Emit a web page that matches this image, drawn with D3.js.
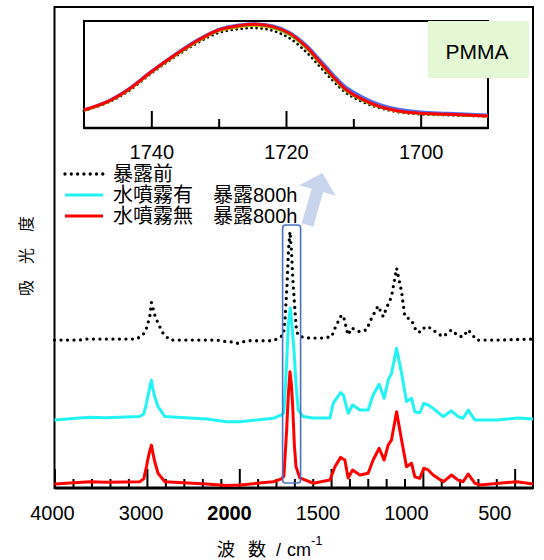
<!DOCTYPE html>
<html>
<head>
<meta charset="utf-8">
<style>
  body { margin: 0; background: #fff; }
  text { font-family: "Liberation Sans", Arial, "Noto Sans CJK JP", sans-serif; fill: #000; }
</style>
</head>
<body>
<script src="https://cdn.jsdelivr.net/npm/d3@7/dist/d3.min.js"></script>
<script>

  // spectra: [wavenumber cm-1, absorbance incl. stacking offset]
  var beforeExposure = [
    [4000,0.621],[3729,0.621],[3656,0.625],[3403,0.625],[3113,0.625],[3042,0.642],
    [3005,0.670],[2969,0.718],[2951,0.776],[2915,0.725],[2879,0.690],[2825,0.649],
    [2752,0.621],[2245,0.621],[2137,0.614],[2068,0.613],[2014,0.607],[1960,0.618],
    [1815,0.618],[1788,0.628],[1760,0.642],[1751,0.704],[1740,0.849],[1732,0.994],
    [1724,1.070],[1716,0.994],[1708,0.870],[1697,0.745],[1688,0.655],[1670,0.635],
    [1615,0.629],[1544,0.629],[1497,0.635],[1474,0.679],[1443,0.725],[1430,0.712],
    [1408,0.642],[1388,0.671],[1343,0.655],[1307,0.663],[1279,0.712],[1244,0.762],
    [1216,0.718],[1198,0.754],[1171,0.800],[1143,0.918],[1116,0.821],[1098,0.718],
    [1062,0.704],[1034,0.655],[1007,0.655],[989,0.676],[952,0.670],[925,0.650],
    [889,0.635],[844,0.663],[808,0.638],[781,0.634],[753,0.663],[707,0.621],
    [580,0.621],[400,0.625]
  ];

  var sprayExposed = [
    [4000,0.290],[3620,0.301],[3439,0.299],[3078,0.304],[3034,0.315],[3005,0.359],
    [2980,0.406],[2951,0.455],[2937,0.422],[2915,0.386],[2879,0.345],[2806,0.304],
    [2354,0.294],[2137,0.283],[1996,0.283],[1815,0.297],[1770,0.311],[1757,0.319],
    [1743,0.511],[1733,0.683],[1722,0.754],[1713,0.683],[1702,0.580],[1691,0.435],
    [1679,0.331],[1652,0.304],[1599,0.298],[1506,0.298],[1488,0.360],[1448,0.403],
    [1433,0.393],[1407,0.318],[1383,0.352],[1343,0.331],[1298,0.331],[1271,0.393],
    [1238,0.438],[1211,0.380],[1189,0.455],[1171,0.483],[1143,0.587],[1116,0.483],
    [1089,0.366],[1062,0.380],[1044,0.324],[1017,0.320],[995,0.359],[971,0.352],
    [944,0.338],[889,0.304],[844,0.328],[808,0.304],[781,0.297],[753,0.331],
    [717,0.290],[597,0.290],[483,0.298],[400,0.294]
  ];

  var noSprayExposed = [
    [4000,0.025],[3620,0.034],[3439,0.032],[3078,0.034],[3034,0.046],[3005,0.096],
    [2980,0.145],[2951,0.186],[2937,0.157],[2915,0.117],[2879,0.069],[2806,0.034],
    [2354,0.025],[2137,0.019],[1996,0.021],[1815,0.034],[1770,0.046],[1757,0.058],
    [1743,0.235],[1733,0.393],[1724,0.490],[1716,0.435],[1709,0.345],[1700,0.186],
    [1691,0.096],[1670,0.050],[1597,0.028],[1506,0.041],[1479,0.096],[1448,0.135],
    [1425,0.124],[1407,0.050],[1383,0.083],[1343,0.062],[1298,0.069],[1271,0.124],
    [1238,0.173],[1211,0.124],[1189,0.186],[1171,0.207],[1143,0.324],[1116,0.207],
    [1089,0.096],[1062,0.111],[1044,0.055],[1017,0.048],[995,0.090],[971,0.083],
    [944,0.062],[889,0.034],[844,0.062],[808,0.041],[781,0.034],[753,0.066],
    [717,0.028],[690,0.021],[490,0.034],[400,0.025]
  ];

  // inset: C=O band, normalised
  var insetWave   = [1750,1746.5,1743.5,1740,1736.5,1733,1730,1727,1724.5,1722,1719.5,1717,1715,1713,1711,1708.5,1706,1703.5,1700,1696,1690];
  var insetBlack  = [0.160,0.236,0.340,0.510,0.665,0.800,0.890,0.925,0.935,0.910,0.840,0.710,0.575,0.440,0.325,0.240,0.185,0.150,0.128,0.120,0.108];
  var insetOrange = [0.163,0.240,0.348,0.518,0.674,0.812,0.905,0.944,0.955,0.935,0.872,0.745,0.605,0.465,0.343,0.254,0.193,0.157,0.133,0.125,0.110];
  var insetGreen  = [0.165,0.243,0.351,0.522,0.678,0.817,0.910,0.950,0.962,0.940,0.875,0.748,0.608,0.468,0.346,0.256,0.195,0.159,0.135,0.126,0.111];
  var insetBlue   = [0.170,0.250,0.360,0.530,0.688,0.828,0.922,0.962,0.975,0.955,0.895,0.775,0.640,0.500,0.378,0.285,0.218,0.178,0.150,0.138,0.122];
  var insetRed    = [0.168,0.246,0.355,0.526,0.682,0.822,0.916,0.956,0.969,0.947,0.885,0.760,0.620,0.479,0.355,0.262,0.199,0.162,0.137,0.128,0.112];

  var majorTicks = [4000, 3000, 2000, 1500, 1000, 500];
  var insetMajor = [1740, 1720, 1700];
  var insetMinor = [1730, 1710];

  var legendLabels = ["暴露前", "水噴霧有", "水噴霧無"];
  var legendSuffix = ["", "暴露800h", "暴露800h"];

  var width = 544;
  var height = 560;

  var svg = d3.select("body")
      .append("svg")
      .attr("width", width)
      .attr("height", height);

  // wavenumber axis changes scale at 2000
  var x = d3.scaleLinear().domain([4000, 2000, 400]).range([54.5, 239.3, 533]);
  var labelX = d3.scaleLinear().domain([4000, 2000, 400]).range([52, 229, 512]);
  var y = d3.scaleLinear().domain([0, 2]).range([490, 7]);

  var minorTicks = d3.range(3800, 2000, -200).concat(d3.range(1900, 400, -100))
      .filter(function (d) { return majorTicks.indexOf(d) < 0; });

  // frame
  svg.append("rect")
      .attr("x", x(4000)).attr("y", 7)
      .attr("width", x(400) - x(4000)).attr("height", 481)
      .attr("fill", "none").attr("stroke", "#000").attr("stroke-width", 2);

  var axisMinor = svg.append("g")
      .attr("transform", "translate(0,488)")
      .call(d3.axisBottom(x).tickValues(minorTicks).tickSize(-9).tickFormat(""));

  var axisMajor = svg.append("g")
      .attr("transform", "translate(0,488)")
      .call(d3.axisBottom(x).tickValues(majorTicks).tickSize(-19).tickPadding(18)
        .tickFormat(d3.format("d")));

  [axisMinor, axisMajor].forEach(function (g) {
    g.select(".domain").remove();
    g.selectAll(".tick line").attr("stroke", "#000").attr("stroke-width", 2);
  });
  axisMajor.selectAll(".tick text")
      .attr("font-size", 20)
      .attr("font-family", "Liberation Sans, Arial, sans-serif")
      .attr("font-weight", function (d) { return d === 2000 ? "bold" : null; })
      .attr("fill", "#000")
      .attr("x", function (d) { return labelX(d) - x(d); });

  svg.append("line")
      .attr("x1", x(4000)).attr("x2", x(400))
      .attr("y1", 488).attr("y2", 488)
      .attr("stroke", "#000").attr("stroke-width", 3);

  // spectra
  var line = d3.line()
      .x(function (d) { return x(d[0]); })
      .y(function (d) { return y(d[1]); });

  svg.append("path").datum(noSprayExposed)
      .attr("d", line).attr("fill", "none")
      .attr("stroke", "#ff0000").attr("stroke-width", 3).attr("stroke-linejoin", "round");

  svg.append("path").datum(sprayExposed)
      .attr("d", line).attr("fill", "none")
      .attr("stroke", "#22f4f4").attr("stroke-width", 3).attr("stroke-linejoin", "round");

  svg.append("path").datum(beforeExposure)
      .attr("d", line).attr("fill", "none")
      .attr("stroke", "#000").attr("stroke-width", 3.3)
      .attr("stroke-linecap", "round").attr("stroke-dasharray", "0,6.5");

  // highlight box round the C=O peak
  svg.append("rect")
      .attr("x", x(1764)).attr("y", 225)
      .attr("width", x(1666) - x(1764)).attr("height", 258)
      .attr("rx", 3)
      .attr("fill", "none").attr("stroke", "#4a72c4").attr("stroke-width", 1.6);

  // arrow to the inset
  svg.append("polygon")
      .attr("points", "-6,0 6,0 6,-36 19,-36 0,-54 -19,-36 -6,-36")
      .attr("transform", "translate(307.5,225) rotate(16)")
      .attr("fill", "#c8d5ed");

  // legend
  var legend = svg.append("g");
  var legendStyles = [
    {stroke: "#000", width: 3.3, dash: "0,6.3"},
    {stroke: "#22f4f4", width: 3, dash: null},
    {stroke: "#ff0000", width: 3, dash: null}
  ];
  legendLabels.forEach(function (label, i) {
    var ly = 174 + i * 21;
    legend.append("line")
        .attr("x1", 65).attr("x2", 103)
        .attr("y1", ly).attr("y2", ly)
        .attr("stroke", legendStyles[i].stroke)
        .attr("stroke-width", legendStyles[i].width)
        .attr("stroke-linecap", legendStyles[i].dash ? "round" : "butt")
        .attr("stroke-dasharray", legendStyles[i].dash);
    legend.append("text")
        .attr("x", 113).attr("y", ly + 7)
        .attr("font-size", 20)
        .text(label);
    if (legendSuffix[i]) {
      legend.append("text")
          .attr("x", 213).attr("y", ly + 7)
          .attr("font-size", 20)
          .text(legendSuffix[i]);
    }
  });

  // inset
  var xi = d3.scaleLinear().domain([1750, 1690]).range([84, 488]);
  var yi = d3.scaleLinear().domain([0, 1]).range([128, 21]);

  svg.append("rect")
      .attr("x", xi(1750)).attr("y", yi(1))
      .attr("width", xi(1690) - xi(1750)).attr("height", yi(0) - yi(1))
      .attr("fill", "#fff").attr("stroke", "#000").attr("stroke-width", 2);

  var insetMinorAxis = svg.append("g")
      .attr("transform", "translate(0,128)")
      .call(d3.axisBottom(xi).tickValues(insetMinor).tickSize(-9).tickFormat(""));
  var insetMajorAxis = svg.append("g")
      .attr("transform", "translate(0,128)")
      .call(d3.axisBottom(xi).tickValues(insetMajor).tickSize(-17).tickPadding(17)
        .tickFormat(d3.format("d")));
  [insetMinorAxis, insetMajorAxis].forEach(function (g) {
    g.select(".domain").remove();
    g.selectAll(".tick line").attr("stroke", "#000").attr("stroke-width", 2);
  });
  insetMajorAxis.selectAll(".tick text")
      .attr("font-size", 20)
      .attr("font-family", "Liberation Sans, Arial, sans-serif")
      .attr("fill", "#000");

  var insetLine = d3.line()
      .x(function (d, i) { return xi(insetWave[i]); })
      .y(function (d) { return yi(d); })
      .curve(d3.curveCatmullRom);

  var insetSeries = [
    {values: insetBlack, color: "#000", dash: "0,5", w: 2.8},
    {values: insetOrange, color: "#f5b800", dash: null, w: 2.5},
    {values: insetGreen, color: "#33cc33", dash: null, w: 2.5},
    {values: insetBlue, color: "#4f6ff0", dash: null, w: 3},
    {values: insetRed, color: "#ff0000", dash: null, w: 3}
  ];
  insetSeries.forEach(function (s) {
    svg.append("path").datum(s.values)
        .attr("d", insetLine).attr("fill", "none")
        .attr("stroke", s.color).attr("stroke-width", s.w)
        .attr("stroke-linecap", s.dash ? "round" : "butt")
        .attr("stroke-dasharray", s.dash);
  });

  svg.append("line")
      .attr("x1", xi(1750)).attr("x2", xi(1690))
      .attr("y1", 128).attr("y2", 128)
      .attr("stroke", "#000").attr("stroke-width", 2.5);

  // sample label
  svg.append("rect")
      .attr("x", 428).attr("y", 21)
      .attr("width", 101).attr("height", 57)
      .attr("fill", "#e4f8d5");
  svg.append("text")
      .attr("x", 477).attr("y", 59)
      .attr("text-anchor", "middle")
      .attr("font-size", 21)
      .text("PMMA");

  // axis titles
  var xTitle = svg.append("text")
      .attr("x", 217).attr("y", 556)
      .attr("font-size", 18);
  xTitle.append("tspan").text("波");
  xTitle.append("tspan").attr("x", 248).text("数");
  xTitle.append("tspan").attr("x", 276).text("/");
  xTitle.append("tspan").attr("x", 287).text("cm");
  xTitle.append("tspan").attr("dy", -11).attr("font-size", 13).text("-1");

  svg.append("text")
      .attr("transform", "translate(32,256) rotate(-90)")
      .attr("text-anchor", "middle")
      .attr("font-size", 16)
      .text("吸　光　度");

</script>
</body>
</html>
